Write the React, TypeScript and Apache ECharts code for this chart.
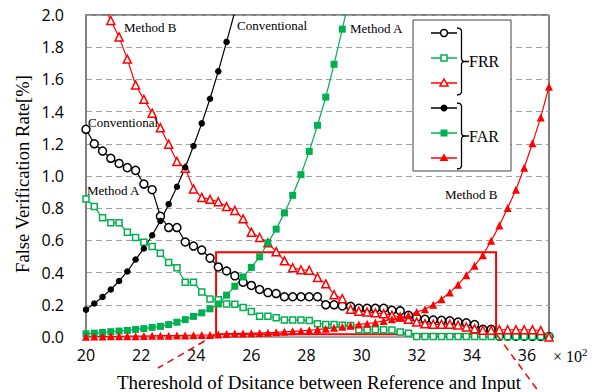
import React, { useEffect, useRef } from "react";
import * as echarts from "echarts";

// Threshold values (x 10^2)
const thresholds = [
  20.0, 20.3, 20.6, 20.9, 21.2, 21.5, 21.8, 22.1, 22.4, 22.7, 23.0, 23.3, 23.6, 23.9, 24.2,
  24.5, 24.8, 25.1, 25.4, 25.7, 26.0, 26.3, 26.6, 26.9, 27.2, 27.5, 27.8, 28.1, 28.4, 28.7,
  29.0, 29.3, 29.6, 29.9, 30.2, 30.5, 30.8, 31.1, 31.4, 31.7, 32.0, 32.3, 32.6, 32.9, 33.2,
  33.5, 33.8, 34.1, 34.4, 34.7, 35.0, 35.3, 35.6, 35.9, 36.2, 36.5, 36.8,
];

const frrConventional = [
  1.29, 1.2, 1.155, 1.11, 1.078, 1.052, 1.035, 0.95, 0.915, 0.75, 0.68, 0.68, 0.59, 0.565, 0.54,
  0.49, 0.435, 0.41, 0.38, 0.34, 0.32, 0.295, 0.276, 0.27, 0.25, 0.25, 0.25, 0.25, 0.25, 0.2,
  0.2, 0.193, 0.19, 0.178, 0.178, 0.178, 0.178, 0.166, 0.162, 0.135, 0.12, 0.11, 0.105, 0.104, 0.1,
  0.093, 0.088, 0.077, 0.048, 0.048, 0.006, 0.006, 0.005, 0.005, 0.004, 0.004, 0.003,
];

const frrMethodA = [
  0.857, 0.81, 0.74, 0.709, 0.709, 0.65, 0.618, 0.589, 0.562, 0.52, 0.462, 0.43, 0.34, 0.34, 0.28,
  0.236, 0.232, 0.205, 0.204, 0.183, 0.158, 0.129, 0.129, 0.12, 0.105, 0.105, 0.105, 0.103, 0.083, 0.078,
  0.078, 0.073, 0.072, 0.045, 0.045, 0.045, 0.045, 0.043, 0.031, 0.024, 0.003, 0.003, 0.003, 0.003, 0.003,
  0.003, 0.003, 0.003, 0.003, 0.003, 0.003, 0.003, 0.003, 0.003, 0.003, 0.003, 0.003,
];

const frrMethodB = [
  2.35, 2.2, 2.07, 1.966, 1.864, 1.726, 1.565, 1.476, 1.39, 1.3, 1.197, 1.09, 1.048, 0.92, 0.867,
  0.855, 0.84, 0.81, 0.786, 0.734, 0.651, 0.618, 0.585, 0.53, 0.473, 0.43, 0.417, 0.415, 0.37, 0.33,
  0.263, 0.238, 0.173, 0.16, 0.155, 0.15, 0.145, 0.135, 0.124, 0.11, 0.093, 0.083, 0.079, 0.079, 0.079,
  0.074, 0.062, 0.052, 0.042, 0.042, 0.045, 0.045, 0.045, 0.045, 0.045, 0.04, 0.0,
];

const farConventional = [
  0.17, 0.208, 0.249, 0.295, 0.348, 0.407, 0.481, 0.55, 0.632, 0.721, 0.825, 0.933, 1.053, 1.186, 1.327,
  1.48, 1.65, 1.833, 2.02, null, null, null, null, null, null, null, null, null, null, null,
  null, null, null, null, null, null, null, null, null, null, null, null, null, null, null,
  null, null, null, null, null, null, null, null, null, null, null, null,
];

const farMethodA = [
  0.02, 0.024, 0.028, 0.033, 0.037, 0.041, 0.047, 0.052, 0.06, 0.066, 0.077, 0.092, 0.108, 0.128, 0.15,
  0.175, 0.205, 0.26, 0.315, 0.373, 0.432, 0.498, 0.585, 0.67, 0.771, 0.88, 1.008, 1.153, 1.315, 1.49,
  1.694, 1.912, 2.14, null, null, null, null, null, null, null, null, null, null, null, null,
  null, null, null, null, null, null, null, null, null, null, null, null,
];

const farMethodB = [
  0.002, 0.003, 0.003, 0.004, 0.004, 0.005, 0.005, 0.006, 0.007, 0.008, 0.008, 0.009, 0.01, 0.011, 0.012,
  0.013, 0.015, 0.018, 0.021, 0.022, 0.023, 0.025, 0.027, 0.029, 0.032, 0.035, 0.038, 0.042, 0.046, 0.052,
  0.058, 0.064, 0.07, 0.078, 0.083, 0.09, 0.1, 0.11, 0.121, 0.135, 0.155, 0.172, 0.2, 0.235, 0.277,
  0.325, 0.384, 0.443, 0.508, 0.598, 0.692, 0.802, 0.915, 1.051, 1.203, 1.364, 1.555,
];

// Zoomed region (data coordinates)
const zoomRegion = { xMin: 24.72, xMax: 34.88, yMin: 0.017, yMax: 0.527 };

const BLACK = "#000000";
const GREEN = "#00b050";
const RED = "#ff0000";
const SERIF = "'Liberation Serif', 'Times New Roman', serif";
const SANS = "'Open Sans', 'Noto Sans', sans-serif";

function toData(arr: (number | null)[]) {
  return thresholds.map((x, i) => [x, arr[i] === null ? "-" : arr[i]]);
}

function makeSeries(name: string, arr: (number | null)[], color: string, symbol: string, size: number, open: boolean) {
  return {
    name,
    type: "line",
    data: toData(arr),
    symbol,
    symbolSize: size,
    showSymbol: true,
    clip: true,
    lineStyle: { color, width: 1.2 },
    itemStyle: open
      ? { color: "#ffffff", borderColor: color, borderWidth: 1.5 }
      : { color, borderColor: color, borderWidth: 0 },
    emphasis: { disabled: true },
  };
}

export default function App() {
  const ref = useRef<HTMLDivElement>(null);

  useEffect(() => {
    if (!ref.current) return;
    const chart = echarts.init(ref.current, null, { renderer: "svg" });

    const legendY = [33, 58, 83, 108, 133, 158];
    const legendColors = [BLACK, GREEN, RED, BLACK, GREEN, RED];
    const lx = 444;
    const legendEls: any[] = [
      { type: "rect", shape: { x: 413, y: 20, width: 98, height: 151 }, style: { fill: "#fff", stroke: "#404040", lineWidth: 1 }, z: 10 },
    ];
    legendY.forEach((y, i) => {
      legendEls.push({ type: "line", shape: { x1: 431, y1: y, x2: 457, y2: y }, style: { stroke: legendColors[i], lineWidth: 1.5 }, z: 11 });
    });
    legendEls.push(
      { type: "circle", shape: { cx: lx, cy: legendY[0], r: 3.5 }, style: { fill: "#fff", stroke: BLACK, lineWidth: 1.5 }, z: 12 },
      { type: "rect", shape: { x: lx - 3, y: legendY[1] - 3, width: 6, height: 6 }, style: { fill: "#fff", stroke: GREEN, lineWidth: 1.5 }, z: 12 },
      { type: "polygon", shape: { points: [[lx, legendY[2] - 4], [lx + 4, legendY[2] + 3], [lx - 4, legendY[2] + 3]] }, style: { fill: "#fff", stroke: RED, lineWidth: 1.5 }, z: 12 },
      { type: "circle", shape: { cx: lx, cy: legendY[3], r: 3.5 }, style: { fill: BLACK }, z: 12 },
      { type: "rect", shape: { x: lx - 3.5, y: legendY[4] - 3.5, width: 7, height: 7 }, style: { fill: GREEN }, z: 12 },
      { type: "polygon", shape: { points: [[lx, legendY[5] - 4.5], [lx + 4.5, legendY[5] + 3], [lx - 4.5, legendY[5] + 3]] }, style: { fill: RED }, z: 12 }
    );
    const brace = (top: number, bottom: number) => {
      const mid = (top + bottom) / 2;
      return [
        {
          type: "polyline",
          shape: {
            points: [
              [457, top], [460, top + 0.5], [461.5, top + 2.5], [461.5, mid - 2.5], [462.5, mid - 0.5], [464, mid],
              [462.5, mid + 0.5], [461.5, mid + 2.5], [461.5, bottom - 2.5], [460, bottom - 0.5], [457, bottom],
            ],
          },
          style: { stroke: "#000", lineWidth: 1.3, fill: null },
          z: 12,
        },
        { type: "line", shape: { x1: 463, y1: mid, x2: 469, y2: mid }, style: { stroke: "#000", lineWidth: 1.5 }, z: 12 },
      ];
    };
    legendEls.push(...brace(28, 95), ...brace(103, 169));
    legendEls.push(
      { type: "text", x: 469, y: 61, style: { text: "FRR", font: `16px ${SERIF}`, fill: "#000", verticalAlign: "middle", align: "left" }, z: 12 },
      { type: "text", x: 469, y: 136, style: { text: "FAR", font: `16px ${SERIF}`, fill: "#000", verticalAlign: "middle", align: "left" }, z: 12 }
    );

    const annot = (text: string, x: number, y: number) => ({
      type: "text",
      x,
      y,
      style: { text, font: `13px ${SERIF}`, fill: "#000", verticalAlign: "middle", align: "left" },
      z: 9,
    });

    const option: any = {
      animation: false,
      backgroundColor: "#ffffff",
      grid: { left: 86, right: 53, top: 15, bottom: 55, show: true, borderColor: "#000", borderWidth: 1, backgroundColor: "transparent" },
      xAxis: {
        type: "value",
        min: 20,
        max: 36.8,
        interval: 2,
        axisLine: { show: true, onZero: false, lineStyle: { color: "#a6a6a6", width: 2 } },
        axisTick: { show: false },
        splitLine: { show: false },
        axisLabel: { showMaxLabel: false, color: "#000", fontFamily: SANS, fontSize: 16, margin: 10 },
      },
      yAxis: {
        type: "value",
        min: 0,
        max: 2,
        interval: 0.2,
        axisLine: { show: true, lineStyle: { color: "#808080", width: 2 } },
        axisTick: { show: false },
        splitLine: { show: true, lineStyle: { color: "#a0a0a0", width: 1, type: [6, 4] } },
        axisLabel: { color: "#000", fontFamily: SANS, fontSize: 16, margin: 22, formatter: (v: number) => v.toFixed(1) },
      },
      series: [
        makeSeries("FRR Conventional", frrConventional, BLACK, "circle", 8, true),
        makeSeries("FRR Method A", frrMethodA, GREEN, "rect", 6, true),
        makeSeries("FRR Method B", frrMethodB, RED, "triangle", 8, true),
        makeSeries("FAR Conventional", farConventional, BLACK, "circle", 6.5, false),
        makeSeries("FAR Method A", farMethodA, GREEN, "rect", 7, false),
        {
          ...makeSeries("FAR Method B", farMethodB, RED, "triangle", 8, false),
          markArea: {
            silent: true,
            itemStyle: { color: "rgba(0,0,0,0)", borderColor: RED, borderWidth: 2 },
            data: [[{ coord: [zoomRegion.xMin, zoomRegion.yMax] }, { coord: [zoomRegion.xMax, zoomRegion.yMin] }]],
          },
        },
      ],
      graphic: [
        annot("Method B", 124, 27),
        annot("Conventional", 237, 25),
        annot("Method A", 350, 28),
        annot("Conventional", 88, 122),
        annot("Method A", 87, 190),
        annot("Method B", 445, 194),
        ...legendEls,
        { type: "line", shape: { x1: 215, y1: 335, x2: 158, y2: 368 }, style: { stroke: RED, lineWidth: 1.5, lineDash: [7, 5] }, z: 8 },
        { type: "line", shape: { x1: 497, y1: 335, x2: 539, y2: 392 }, style: { stroke: RED, lineWidth: 1.5, lineDash: [7, 5] }, z: 8 },
        {
          type: "text",
          x: 553,
          y: 356,
          style: {
            text: "× 10{s|2}",
            font: `16px ${SERIF}`,
            fill: "#000",
            verticalAlign: "middle",
            align: "left",
            rich: { s: { fontSize: 11, fontFamily: SERIF, verticalAlign: "top", padding: [0, 0, 8, 0] } },
          },
        },
        {
          type: "text",
          x: 319,
          y: 382,
          style: { text: "Thereshold of Dsitance between Reference and Input", font: `19px ${SERIF}`, fill: "#000", align: "center", verticalAlign: "middle" },
        },
        {
          type: "text",
          x: 22,
          y: 174,
          rotation: Math.PI / 2,
          style: { text: "False Verification Rate[%]", font: `18.6px ${SERIF}`, fill: "#000", align: "center", verticalAlign: "middle" },
        },
      ],
    };

    chart.setOption(option);
    return () => chart.dispose();
  }, []);

  return <div ref={ref} style={{ position: "fixed", left: 0, top: 0, width: 602, height: 392, background: "#fff" }} />;
}
